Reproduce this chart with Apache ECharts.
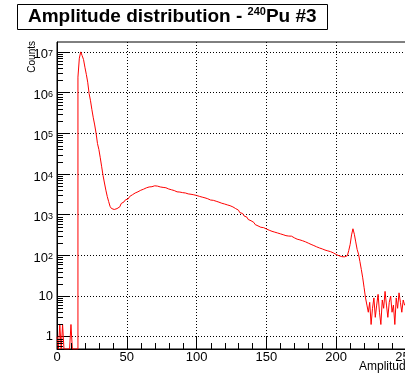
<!DOCTYPE html>
<html>
<head>
<meta charset="utf-8">
<script src="https://cdn.jsdelivr.net/npm/echarts@6/dist/echarts.min.js"></script>
<style>
  html, body { margin: 0; padding: 0; background: #fff; }
  #chart { width: 405px; height: 375px; }
</style>
</head>
<body>
<div id="chart"></div>
<script>
// Histogram binning: 250 channels of width 1 starting at 0
const binLow = 0;
const binWidth = 1;

// Counts per channel (channels 0..249)
const counts = [
  // 0-14
  1, 0, 2, 0, 2, 0, 0, 0, 0, 0, 2, 0, 0, 0, 0,
  // 15-38: main peak and fall
  2400000, 7000000, 10000000, 8100000, 6500000, 4200000, 2800000, 1800000,
  950000, 630000, 380000, 240000, 160000, 100000, 56000, 40000,
  25000, 15000, 9100, 6000, 4000, 2800, 2100, 1600,
  // 39-69: valley and rise
  1420, 1340, 1360, 1410, 1480, 1560, 1740, 1880, 2060, 2140,
  2310, 2440, 2560, 2790, 3080, 3240, 3410, 3480, 3650, 3790,
  3980, 4160, 4230, 4380, 4560, 4640, 4790, 4920, 4870, 5010, 5120,
  // 70-109
  4980, 5030, 4910, 4800, 4830, 4680, 4560, 4590, 4470, 4280,
  4190, 4090, 3990, 3910, 3720, 3640, 3560, 3590, 3530, 3480,
  3390, 3410, 3320, 3240, 3260, 3170, 3150, 3080, 3030, 2960,
  2890, 2820, 2760, 2700, 2640, 2590, 2510, 2460, 2350, 2290,
  // 110-149
  2240, 2250, 2190, 2140, 2100, 2030, 1960, 1910, 1870, 1830,
  1790, 1740, 1700, 1660, 1620, 1550, 1480, 1410, 1350, 1290,
  1200, 1120, 1070, 1000, 930, 870, 810, 760, 710, 680,
  645, 600, 570, 530, 515, 490, 495, 480, 465, 445,
  // 150-189
  440, 415, 400, 390, 380, 372, 362, 355, 352, 338,
  330, 322, 316, 305, 302, 298, 294, 296, 282, 270,
  258, 250, 246, 240, 233, 228, 224, 215, 208, 200,
  194, 186, 181, 174, 170, 162, 158, 152, 148, 144,
  // 190-222: second peak and edge
  138, 135, 132, 129, 126, 123, 117, 115, 110, 105,
  100, 98, 95, 93, 94, 92, 95, 98, 107, 132,
  186, 318, 450, 330, 214, 140, 107, 70, 45, 28,
  16, 9, 6,
  // 223-249: background tail
  4, 7, 2, 5, 9, 3, 6, 11, 4, 2,
  8, 5, 13, 6, 3, 7, 10, 4, 6, 2,
  9, 5, 12, 7, 4, 8, 6
];

// Axis ranges and tick labels
const xMin = 0, xMax = 250, xStep = 50, xMinorStep = 10;
const yMin = 0.5, yMax = 1.75e7;
const yMajorTicks = [1, 10, 100, 1e3, 1e4, 1e5, 1e6, 1e7];

// Minor log ticks (2..9 of every decade inside the range)
const yMinorTicks = [];
for (let e = -1; e <= 7; e++) {
  for (let k = 2; k <= 9; k++) {
    const v = k * Math.pow(10, e);
    if (v > yMin && v < yMax) yMinorTicks.push(v);
  }
}
// Minor linear ticks every 10 channels between the labelled ones
const xMinorTicks = [];
for (let v = xMin + xMinorStep; v < xMax; v += xMinorStep) {
  if (v % xStep !== 0) xMinorTicks.push(v);
}

// Step-line points at the lower edge of each bin; empty bins sit on the axis floor
const histPoints = counts.map((c, i) => [binLow + i * binWidth, c > 0 ? c : yMin]);
histPoints.push([binLow + counts.length * binWidth, counts[counts.length - 1] > 0 ? counts[counts.length - 1] : yMin]);

const FONT = 'Liberation Sans';
const chart = echarts.init(document.getElementById('chart'), null, { renderer: 'canvas' });

const titleGraphics = [
  {
    type: 'rect', z: 10,
    shape: { x: 17.5, y: 4.5, width: 310, height: 25 },
    style: { fill: '#fff', stroke: '#000', lineWidth: 1 }
  },
  {
    type: 'text', z: 11, x: 28, y: 17,
    style: {
      text: '{a|Amplitude distribution - }{s|240}{a|Pu #3}',
      verticalAlign: 'middle',
      rich: {
        a: { fontSize: 19, fontWeight: 'bold', fontFamily: FONT, fill: '#000', lineHeight: 22 },
        s: { fontSize: 11, fontWeight: 'bold', fontFamily: FONT, fill: '#000', lineHeight: 11, verticalAlign: 'top' }
      }
    }
  },
  {
    type: 'text', z: 11, x: 32, y: 41, rotation: Math.PI / 2,
    style: { text: 'Counts', font: '10px "Liberation Sans"', fill: '#000', align: 'right', verticalAlign: 'middle' }
  },
  {
    type: 'text', z: 11, x: 359, y: 367,
    style: { text: 'Amplitude', font: '12px "Liberation Sans"', fill: '#000', align: 'left', verticalAlign: 'middle' }
  }
];

chart.setOption({
  animation: false,
  backgroundColor: '#fff',
  grid: {
    left: 57, top: 42, right: -1, bottom: 26,
    show: true, borderColor: '#000', borderWidth: 1,
    backgroundColor: 'transparent',
    containLabel: false, outerBoundsMode: 'none'
  },
  xAxis: {
    type: 'value', min: xMin, max: xMax, interval: xStep,
    axisLine: { show: true, onZero: false, lineStyle: { color: '#000', width: 1 } },
    axisTick: { show: true, inside: true, length: 12, lineStyle: { color: '#000', width: 1 } },
    minorTick: { show: false },
    splitLine: { show: true, lineStyle: { color: '#000', width: 1, type: [1, 2] } },
    minorSplitLine: { show: false },
    axisLabel: {
      color: '#000', fontSize: 13, fontFamily: FONT, margin: 2,
      showMinLabel: true, showMaxLabel: true, hideOverlap: false
    }
  },
  yAxis: {
    type: 'log', logBase: 10, min: yMin, max: yMax,
    axisLine: { show: true, onZero: false, lineStyle: { color: '#000', width: 1 } },
    axisTick: { show: true, inside: true, length: 12, customValues: yMajorTicks, lineStyle: { color: '#000', width: 1 } },
    minorTick: { show: false },
    splitLine: { show: true, lineStyle: { color: '#000', width: 1, type: [1, 2] } },
    axisLabel: {
      customValues: yMajorTicks,
      margin: 4,
      color: '#000',
      fontFamily: FONT,
      formatter: function (v) {
        const e = Math.round(Math.log10(v));
        if (e === 0) return '{n|1}';
        if (e === 1) return '{n|10}';
        return '{b|10}{s|' + e + '}';
      },
      rich: {
        n: { fontSize: 13, fontFamily: FONT, color: '#000', lineHeight: 14 },
        b: { fontSize: 13, fontFamily: FONT, color: '#000', lineHeight: 14, padding: [6, 0, 0, 0] },
        s: { fontSize: 9, fontFamily: FONT, color: '#000', lineHeight: 9, verticalAlign: 'top', padding: [4, 0, 0, 0] }
      }
    }
  },
  series: [
    {
      name: 'Amplitude',
      type: 'line',
      data: histPoints,
      step: 'end',
      showSymbol: false,
      symbol: 'none',
      clip: true,
      lineStyle: { color: '#ff0000', width: 1 },
      itemStyle: { color: '#ff0000' },
      z: 2
    }
  ],
  graphic: titleGraphics
});

// Short minor ticks pointing into the frame, placed through the axis scales
const xLeft = chart.convertToPixel({ xAxisIndex: 0 }, xMin);
const yBottom = chart.convertToPixel({ yAxisIndex: 0 }, yMin);
const yMinorLines = yMinorTicks.map(v => {
  const y = Math.round(chart.convertToPixel({ yAxisIndex: 0 }, v)) + 0.5;
  return {
    type: 'line', z: 50,
    shape: { x1: xLeft, y1: y, x2: xLeft + 6, y2: y },
    style: { stroke: '#000', lineWidth: 1 }
  };
});
const xMinorLines = xMinorTicks.map(v => {
  const x = Math.round(chart.convertToPixel({ xAxisIndex: 0 }, v)) + 0.5;
  return {
    type: 'line', z: 50,
    shape: { x1: x, y1: yBottom, x2: x, y2: yBottom - 6 },
    style: { stroke: '#000', lineWidth: 1 }
  };
});
chart.setOption({ graphic: titleGraphics.concat(yMinorLines, xMinorLines) });
</script>
</body>
</html>
